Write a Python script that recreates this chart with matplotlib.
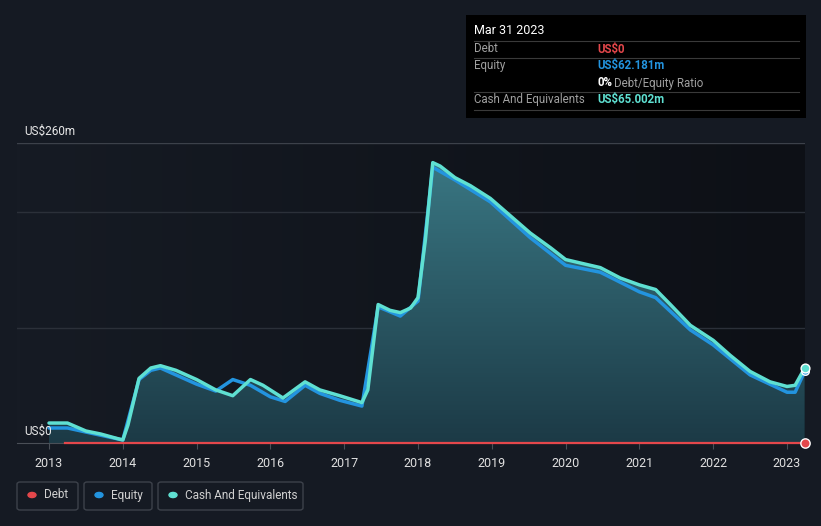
import numpy as np
import matplotlib
matplotlib.use("Agg")
import matplotlib.pyplot as plt
from matplotlib.colors import LinearSegmentedColormap
from matplotlib.patches import FancyBboxPatch, Rectangle

plt.rcParams['font.family'] = ['Roboto', 'DejaVu Sans']

# ---------- data (US$m) ----------
cash_t = [2013.0, 2013.25, 2013.5, 2013.7, 2013.9, 2014.0, 2014.07, 2014.22, 2014.38, 2014.51,
          2014.72, 2015.0, 2015.26, 2015.49, 2015.73, 2015.9, 2016.17, 2016.47, 2016.67, 2016.94,
          2017.24, 2017.32, 2017.46, 2017.62, 2017.76, 2017.9, 2018.0, 2018.1, 2018.2, 2018.3,
          2018.5, 2018.71, 2018.98, 2019.25, 2019.52, 2019.8, 2020.0, 2020.2, 2020.47, 2020.74,
          2021.0, 2021.22, 2021.42, 2021.69, 2022.0, 2022.23, 2022.5, 2022.77, 2023.0, 2023.11, 2023.24]
cash = [17.3, 17.3, 10.4, 7.8, 4.3, 2.6, 15.6, 56, 65, 67,
        63, 55, 46, 41, 55, 50, 39, 53, 46, 41,
        35, 46, 120, 115, 113, 117, 126, 176, 243, 240,
        230, 223, 212, 197, 182, 169, 159, 156, 152, 143,
        137, 133, 120, 102, 89, 76, 62, 53, 49, 50, 65.0]

eq_t = [2013.0, 2013.25, 2013.5, 2014.0, 2014.22, 2014.38, 2014.51, 2015.0, 2015.26, 2015.49,
        2015.73, 2016.0, 2016.2, 2016.47, 2016.67, 2016.94, 2017.24, 2017.46, 2017.76, 2018.0,
        2018.2, 2018.5, 2018.98, 2019.52, 2020.0, 2020.47, 2021.0, 2021.22, 2021.69, 2022.0,
        2022.5, 2023.0, 2023.11, 2023.24]
equity = [13, 13, 9.5, 2.6, 55, 63, 65, 51, 45, 55,
          50, 40, 36, 50, 43, 37, 32, 118, 110, 123,
          239, 228, 209, 178, 154, 148, 131, 126, 98, 85,
          59, 44, 44, 62.181]

debt_t = [2013.22, 2023.24]
debt = [0, 0]

years = list(range(2013, 2024))

# ---------- layout ----------
W, H = 821, 526
fig = plt.figure(figsize=(W / 100, H / 100), dpi=100)
fig.patch.set_facecolor('#151a23')

x0, x1, ytop, ybot = 17, 805, 143, 443
ax = fig.add_axes([x0 / W, 1 - ybot / H, (x1 - x0) / W, (ybot - ytop) / H])
ax.set_facecolor('#151a23')
xmin = 2013 + (x0 - 49) / 73.8
xmax = 2013 + (x1 - 49) / 73.8
ax.set_xlim(xmin, xmax)
ax.set_ylim(0, 260)

# background horizontal gradient
bg = LinearSegmentedColormap.from_list('bg', ['#161b24', '#0d1016'])
ax.imshow(np.linspace(0, 1, 256).reshape(1, -1), cmap=bg, aspect='auto',
          extent=[xmin, xmax, 0, 275], zorder=0)

for g in [100, 200, 260]:
    ax.axhline(g, color='#2b3039' if g != 260 else '#3c414a', lw=1, zorder=1)

# gradient fill under cash
fill = ax.fill_between(cash_t, cash, 0, color='none', zorder=2)
fc = LinearSegmentedColormap.from_list('fc', ['#1c3a46', '#3a7884'])
im = ax.imshow(np.linspace(0, 1, 256).reshape(-1, 1), cmap=fc, aspect='auto',
               origin='lower', extent=[xmin, xmax, 0, 250], zorder=2)
path = fill.get_paths()[0]
im.set_clip_path(path, transform=ax.transData)

ax.plot(eq_t, equity, color='#2394df', lw=2.5, zorder=3, solid_capstyle='round', solid_joinstyle='round')
ax.plot(cash_t, cash, color='#5fe0d2', lw=2.5, zorder=4, solid_capstyle='round', solid_joinstyle='round')
ax.plot(debt_t, debt, color='#e4474b', lw=1.6, zorder=5, clip_on=False)

ax.scatter([2023.24], [0], s=45, color='#e4474b', edgecolor='white', lw=1, zorder=6, clip_on=False)
ax.scatter([2023.24], [62.181], s=30, color='#2394df', edgecolor='white', lw=1, zorder=6, clip_on=False)
ax.scatter([2023.24], [65.002], s=40, color='#5fe0d2', edgecolor='white', lw=1, zorder=7, clip_on=False)

for s in ['top', 'right', 'left']:
    ax.spines[s].set_visible(False)
ax.spines['bottom'].set_color('#4a4f57')
ax.set_yticks([])
ax.set_xticks(years)
ax.set_xticklabels([str(y) for y in years], color='#e0e0e0', fontsize=9)
ax.tick_params(axis='x', colors='#4a4f57', length=4, labelcolor='#e0e0e0', pad=6)

fig.text(24 / W, 1 - 131 / H, 'US$260m', color='#e8e8e8', fontsize=8.5, va='center')
fig.text(24 / W, 1 - 431 / H, 'US$0', color='#e8e8e8', fontsize=8.5, va='center')

# ---------- tooltip ----------
fig.patches.append(Rectangle((466 / W, 1 - 118 / H), 340 / W, 103 / H,
                             transform=fig.transFigure, facecolor='#000000', edgecolor='none', zorder=10))
fig.text(474 / W, 1 - 31 / H, 'Mar 31 2023', color='white', fontsize=9, va='center', zorder=11)
for yy in [41, 58, 92, 110]:
    fig.lines.append(plt.Line2D([474 / W, 799 / W], [1 - yy / H, 1 - yy / H], transform=fig.transFigure,
                                color='#3a3a3a', lw=0.8, zorder=11))
rows = [(49, 'Debt', 'US$0', '#e4474b'),
        (66, 'Equity', 'US$62.181m', '#2394df'),
        (100, 'Cash And Equivalents', 'US$65.002m', '#5fe0d2')]
for yy, lab, val, col in rows:
    fig.text(474 / W, 1 - yy / H, lab, color='#a0a0a0', fontsize=8.3, va='center', zorder=11)
    fig.text(597 / W, 1 - yy / H, val, color=col, fontsize=8.3, va='center', fontweight='bold', zorder=11)
fig.text(597 / W, 1 - 83 / H, '0%', color='white', fontsize=8.3, va='center', fontweight='bold', zorder=11)
fig.text(614 / W, 1 - 83 / H, 'Debt/Equity Ratio', color='#a0a0a0', fontsize=8.3, va='center', zorder=11)

# ---------- legend ----------
legend_items = [(17, 78, 'Debt', '#e4474b'), (84, 152, 'Equity', '#2394df'), (158, 303, 'Cash And Equivalents', '#5fe0d2')]
for lx0, lx1, lab, col in legend_items:
    fig.patches.append(FancyBboxPatch((lx0 / W, 1 - 510 / H), (lx1 - lx0) / W, 28 / H,
                                      boxstyle='round,pad=0,rounding_size=0.004', transform=fig.transFigure,
                                      facecolor='none', edgecolor='#3d424b', lw=1))
    fig.patches.append(plt.Circle(((lx0 + 15) / W, 1 - 495 / H), 4 / W, transform=fig.transFigure,
                                  color=col))
    fig.text((lx0 + 27) / W, 1 - 495 / H, lab, color='#d0d0d0', fontsize=8.5, va='center')

fig.savefig('out.png', dpi=100, facecolor=fig.get_facecolor())
